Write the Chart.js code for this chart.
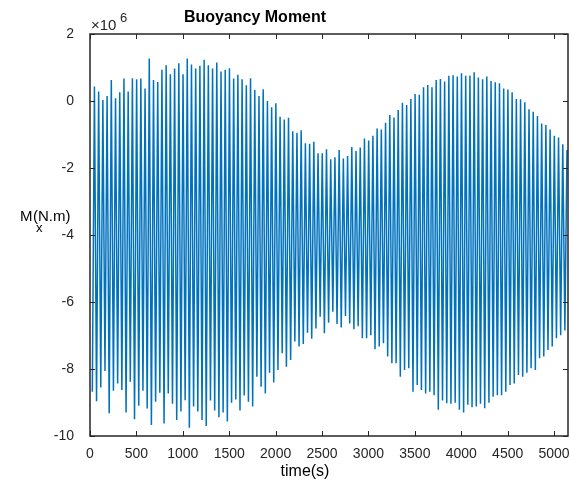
<!DOCTYPE html>
<html>
<head>
<meta charset="utf-8">
<script src="https://cdn.jsdelivr.net/npm/chart.js"></script>
<style>
  html, body { margin: 0; padding: 0; background: #fff; }
  #wrap { width: 571px; height: 486px; }
</style>
</head>
<body>
<div id="wrap"><canvas id="moment"></canvas></div>
<script>
// Values, in units of 1e6 N.m
// Troughs (lowest point of each cycle), left to right
const troughs = [
  -8.68, -8.96, -8.55, -8.06, -9.32, -8.65, -8.43, -8.63, -9.30, -8.38,
  -9.50, -9.10, -8.65, -9.18, -9.67, -8.98, -8.71, -9.63, -8.73, -9.04,
  -9.52, -9.27, -8.93, -9.75, -9.12, -9.27, -9.52, -9.70, -8.94, -9.24,
  -9.44, -9.30, -9.57, -9.01, -8.91, -9.24, -8.79, -8.98,
  -9.12, -8.23, -8.53, -8.73, -8.11, -8.40, -8.03, -7.53, -7.93, -7.73,
  -7.18, -7.33, -7.25, -6.92, -7.10,
  -6.79, -6.44, -6.93, -6.62, -6.29, -6.66, -6.76, -6.42, -6.64, -6.81,
  -6.72, -7.08, -7.08, -6.99,
  -7.41, -7.33, -7.23, -7.63, -7.83, -7.83, -8.23, -8.03, -7.98,
  -8.68, -8.48, -8.63, -8.73, -8.68, -8.78, -9.22, -8.94, -9.02, -9.04,
  -9.01, -9.22, -9.30, -9.07, -9.14, -9.12, -9.04, -9.17, -9.01, -8.83,
  -8.78, -8.78, -8.68, -8.48, -8.43, -8.18, -8.23, -8.11, -7.98, -8.03,
  -7.68, -7.63, -7.43, -7.33, -7.08, -6.99, -6.85
];

// Peaks (highest point of each cycle), left to right
const peaks = [
  0.43, 0.28, 0.03, 0.15, 0.63, 0.08, 0.26, 0.67, 0.28, 0.68,
  0.65, 0.67, 0.37, 1.27, 0.63, 0.57, 0.93, 1.07, 0.80, 0.97,
  1.13, 0.80, 1.27, 1.09, 0.97, 1.05, 1.23, 1.07, 0.97, 1.15,
  0.88, 0.93, 0.98, 0.67, 0.78, 0.65, 0.47,
  0.68, 0.33, 0.15, 0.35, 0.00, -0.19, -0.07, -0.47, -0.55, -0.50,
  -0.90, -0.95, -0.87, -1.26, -1.28, -1.22, -1.56, -1.56, -1.44, -1.74,
  -1.68, -1.46, -1.72, -1.64, -1.37, -1.49, -1.39, -1.12, -1.18, -1.04,
  -0.82, -0.85, -0.65, -0.42, -0.49, -0.27, -0.05, -0.12,
  0.06, 0.21, 0.19, 0.41, 0.48, 0.41, 0.63, 0.66, 0.58, 0.75,
  0.77, 0.73, 0.83, 0.75, 0.76, 0.86, 0.70, 0.65, 0.73, 0.60,
  0.56, 0.53, 0.37, 0.34, 0.26, 0.06, 0.05, -0.04, -0.25, -0.32,
  -0.45, -0.67, -0.72, -0.85, -1.04, -1.09, -1.29, -1.46
];

// time span of the samples (s)
const tFirst = 25;
const tLast = 5139;

const xTicks = [0, 500, 1000, 1500, 2000, 2500, 3000, 3500, 4000, 4500, 5000];
const yTicks = [2, 0, -2, -4, -6, -8, -10];

// trough, peak, trough, peak ... evenly spaced in time
const points = [];
const nSamples = troughs.length + peaks.length;
const dt = (tLast - tFirst) / (nSamples - 1);
for (let i = 0; i < troughs.length; i++) {
  points.push({ x: tFirst + (2 * i) * dt, y: troughs[i] });
  if (i < peaks.length) points.push({ x: tFirst + (2 * i + 1) * dt, y: peaks[i] });
}

const ink = '#262626';
const font = '"Liberation Sans", Arial, Helvetica, sans-serif';

// box, inward ticks and all the labels MATLAB puts around the axes
const decorations = {
  id: 'decorations',
  afterDraw(chart) {
    const { ctx, chartArea: a, scales } = chart;
    ctx.save();
    ctx.strokeStyle = ink;
    ctx.lineWidth = 1.5;
    ctx.strokeRect(a.left, a.top, a.right - a.left, a.bottom - a.top);

    ctx.lineWidth = 1;
    ctx.beginPath();
    xTicks.forEach(v => {
      const x = Math.round(scales.x.getPixelForValue(v)) + 0.5;
      ctx.moveTo(x, a.bottom); ctx.lineTo(x, a.bottom - 5);
      ctx.moveTo(x, a.top); ctx.lineTo(x, a.top + 5);
    });
    yTicks.forEach(v => {
      const y = Math.round(scales.y.getPixelForValue(v)) + 0.5;
      ctx.moveTo(a.left, y); ctx.lineTo(a.left + 5, y);
      ctx.moveTo(a.right, y); ctx.lineTo(a.right - 5, y);
    });
    ctx.stroke();

    ctx.fillStyle = '#000';
    ctx.textBaseline = 'middle';

    // title
    ctx.font = 'bold 16px ' + font;
    ctx.textAlign = 'center';
    ctx.fillText('Buoyancy Moment', 255, 18);

    // exponent
    ctx.fillStyle = ink;
    ctx.font = '15px ' + font;
    ctx.textAlign = 'left';
    ctx.fillText('\u00d710', 91, 26);
    ctx.font = '13px ' + font;
    ctx.fillText('6', 120, 18);

    // y label: M with subscript x
    ctx.fillStyle = '#000';
    ctx.font = '15px ' + font;
    ctx.fillText('M', 20, 217);
    ctx.fillText('(N.m)', 33, 217);
    ctx.font = '13px ' + font;
    ctx.fillText('x', 36, 228);

    // x label
    ctx.font = '16px ' + font;
    ctx.textAlign = 'center';
    ctx.fillText('time(s)', 305, 472);
    ctx.restore();
  }
};

new Chart(document.getElementById('moment'), {
  type: 'line',
  data: {
    datasets: [{
      data: points,
      borderColor: '#0072BD',
      borderWidth: 1.5,
      pointRadius: 0,
      tension: 0,
      fill: false
    }]
  },
  options: {
    responsive: true,
    maintainAspectRatio: false,
    animation: false,
    layout: { padding: { top: 34, right: 3, left: 0, bottom: 0 } },
    plugins: { legend: { display: false }, tooltip: { enabled: false } },
    scales: {
      x: {
        type: 'linear',
        min: 0,
        max: 5150,
        afterBuildTicks: axis => { axis.ticks = xTicks.map(v => ({ value: v })); },
        afterFit: axis => {
          axis.height = 50;
          axis.paddingLeft = 0;
          axis.paddingRight = 0;
        },
        ticks: {
          color: ink,
          font: { family: font, size: 14 },
          padding: 2,
          maxRotation: 0,
          autoSkip: false,
          callback: v => String(v)
        },
        grid: { display: false },
        border: { display: false }
      },
      y: {
        min: -10,
        max: 2,
        afterBuildTicks: axis => { axis.ticks = yTicks.map(v => ({ value: v })); },
        afterFit: axis => {
          axis.width = 90;
          axis.paddingTop = 0;
          axis.paddingBottom = 0;
        },
        ticks: {
          color: ink,
          font: { family: font, size: 14 },
          padding: 8,
          callback: v => String(v)
        },
        grid: { display: false },
        border: { display: false }
      }
    }
  },
  plugins: [decorations]
});
</script>
</body>
</html>
